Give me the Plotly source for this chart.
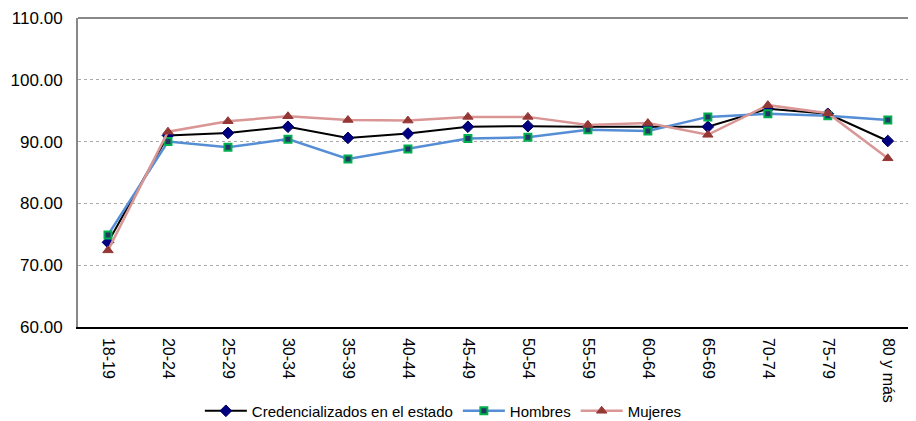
import plotly.graph_objects as go

categorias = ["18-19", "20-24", "25-29", "30-34", "35-39", "40-44", "45-49",
              "50-54", "55-59", "60-64", "65-69", "70-74", "75-79", "80 y más"]
credencializados = [73.7, 91.0, 91.4, 92.4, 90.6, 91.3, 92.4, 92.5, 92.4, 92.4,
                    92.4, 95.3, 94.5, 90.1]
hombres = [74.9, 90.0, 89.1, 90.4, 87.2, 88.8, 90.5, 90.7, 91.9, 91.7,
           94.0, 94.5, 94.2, 93.5]
mujeres = [72.4, 91.6, 93.3, 94.1, 93.5, 93.4, 94.0, 94.0, 92.7, 93.0,
           91.1, 95.9, 94.6, 87.3]
y_ticks = [60, 70, 80, 90, 100, 110]

x = list(range(len(categorias)))

fig = go.Figure()
fig.add_trace(go.Scatter(
    x=x, y=credencializados, name="Credencializados en el estado",
    mode="lines+markers",
    line=dict(color="#000000", width=2),
    marker=dict(symbol="diamond", size=9, color="#000080",
                line=dict(color="#000060", width=1)),
))
fig.add_trace(go.Scatter(
    x=x, y=hombres, name="Hombres",
    mode="lines+markers",
    line=dict(color="#558ED5", width=2.5),
    marker=dict(symbol="square", size=7, color="#1F3864",
                line=dict(color="#00B050", width=2)),
))
fig.add_trace(go.Scatter(
    x=x, y=mujeres, name="Mujeres",
    mode="lines+markers",
    line=dict(color="#D99694", width=2.5),
    marker=dict(symbol="triangle-up", size=9, color="#953735",
                line=dict(color="#953735", width=1)),
))

# page body has an 8px default margin, so the figure is offset by (8, 8)
fig.update_layout(
    width=908, height=421,
    margin=dict(l=70, r=0, t=10, b=102),
    paper_bgcolor="white", plot_bgcolor="white",
    font=dict(family="Liberation Sans, Arial, sans-serif", color="#000000"),
    showlegend=True,
    legend=dict(orientation="h", x=0.436, xanchor="center", y=-0.272,
                yanchor="middle", font=dict(size=15), itemwidth=42,
                tracegroupgap=0),
    xaxis=dict(
        tickmode="array", tickvals=x, ticktext=categorias,
        range=[-0.5, 13.47], tickangle=90, automargin=False,
        tickfont=dict(size=16), showgrid=False, zeroline=False,
        showline=True, linecolor="#000000", linewidth=1.5,
        ticks="", ticklabelstandoff=6,
    ),
    yaxis=dict(
        range=[60, 110], tickmode="array", tickvals=y_ticks,
        ticktext=[f"{v:.2f}" for v in y_ticks], automargin=False,
        tickfont=dict(size=17), showgrid=True, gridcolor="#AAAAAA",
        griddash="dot", gridwidth=1, zeroline=False,
        showline=True, linecolor="#888888", linewidth=2, ticks="",
        ticklabelstandoff=10,
    ),
    shapes=[dict(type="line", xref="paper", yref="paper", x0=0, x1=1,
                 y0=1, y1=1, line=dict(color="#888888", width=2))],
)

fig.write_html("out.html")
